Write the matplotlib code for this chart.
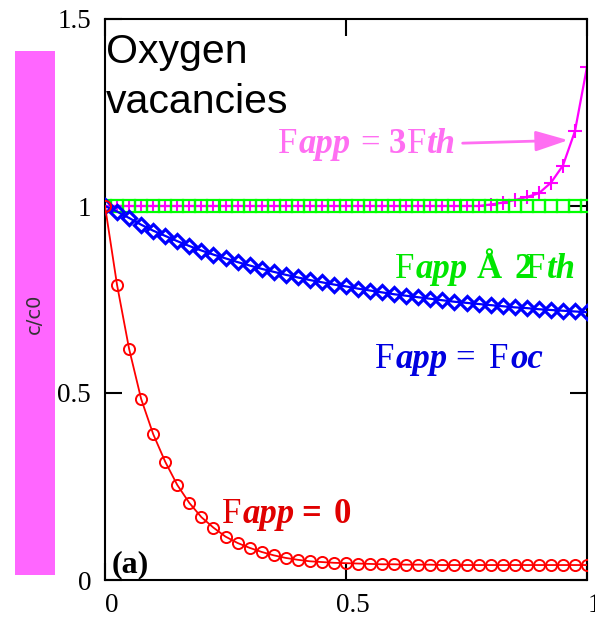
import matplotlib
matplotlib.use("Agg")
import matplotlib.pyplot as plt
import numpy as np
from matplotlib.patches import Rectangle
from matplotlib.transforms import ScaledTranslation

# normalised position along the sample
x_pos = np.linspace(0.0, 1.0, 41)

# normalised vacancy concentration for each applied field
conc_zero = [1.000, 0.789, 0.618, 0.484, 0.390, 0.316, 0.254, 0.206, 0.168, 0.140,
             0.116, 0.099, 0.086, 0.075, 0.066, 0.059, 0.054, 0.050, 0.048, 0.046,
             0.045, 0.044, 0.043, 0.042, 0.042, 0.041, 0.041, 0.041, 0.040, 0.040,
             0.040, 0.040, 0.040, 0.040, 0.040, 0.040, 0.040, 0.040, 0.040, 0.040,
             0.040]
conc_oc = [1.000, 0.985, 0.968, 0.950, 0.934, 0.920, 0.906, 0.893, 0.881, 0.870,
           0.860, 0.850, 0.841, 0.832, 0.824, 0.816, 0.809, 0.802, 0.796, 0.790,
           0.785, 0.779, 0.774, 0.769, 0.764, 0.760, 0.756, 0.752, 0.748, 0.744,
           0.741, 0.738, 0.735, 0.732, 0.729, 0.727, 0.724, 0.722, 0.720, 0.718,
           0.716]
conc_2th = [1.0, 1.0, 1.0, 1.0, 1.0, 1.0, 1.0, 1.0, 1.0, 1.0,
            1.0, 1.0, 1.0, 1.0, 1.0, 1.0, 1.0, 1.0, 1.0, 1.0,
            1.0, 1.0, 1.0, 1.0, 1.0, 1.0, 1.0, 1.0, 1.0, 1.0,
            1.0, 1.0, 1.0, 1.0, 1.0, 1.0, 1.0, 1.0, 1.0, 1.0,
            1.0]
conc_3th = [1.000, 1.000, 1.000, 1.000, 1.000, 1.000, 1.000, 1.000, 1.000, 1.000,
            1.000, 1.000, 1.000, 1.000, 1.000, 1.000, 1.000, 1.000, 1.000, 1.000,
            1.000, 1.000, 1.000, 1.000, 1.000, 1.000, 1.000, 1.000, 1.000, 1.000,
            1.000, 1.000, 1.004, 1.009, 1.016, 1.024, 1.034, 1.062, 1.108, 1.200,
            1.372]

x_ticks = [0, 0.5, 1]
x_tick_labels = ["0", "0.5", "1"]
y_ticks = [0, 0.5, 1, 1.5]
y_tick_labels = ["0", "0.5", "1", "1.5"]

W, H, DPI = 595, 617, 100
fig = plt.figure(figsize=(W / DPI, H / DPI), dpi=DPI)
ax = fig.add_axes([105 / W, (H - 580) / H, 482 / W, 561 / H])

SERIF = "Liberation Serif"

# magenta side bar with rotated label
fig.add_artist(Rectangle((15 / W, (H - 575) / H), 40 / W, 524 / H,
                         transform=fig.transFigure, facecolor="#ff66ff",
                         edgecolor="none", zorder=0))
fig.text(34 / W, (H - 314) / H, "c/c0", rotation=90, ha="center", va="center",
         fontsize=14, color="#333333", family="DejaVu Sans")

ax.plot(x_pos, conc_3th, color="#ff00ff", lw=1.6, marker="+", ms=10, mew=1.5, zorder=2)
ax.plot(x_pos, conc_2th, ls="none", marker="s", ms=8.0, mfc="none", mec="#00ff00",
        mew=1.6, zorder=3)
ax.plot(x_pos, conc_oc, color="#0000ff", lw=1.6, marker="D", ms=7.6, mfc="none",
        mew=2.3, zorder=4)
ax.plot(x_pos, conc_zero, color="#ff0000", lw=1.3, marker="o", ms=8.0, mfc="none",
        mew=1.4, zorder=5)

ax.set_xlim(0, 1)
ax.set_ylim(0, 1.5)
ax.set_xticks(x_ticks)
ax.set_xticklabels(x_tick_labels)
ax.set_yticks(y_ticks)
ax.set_yticklabels(y_tick_labels)
ax.tick_params(direction="in", length=12, width=1.5, top=True, right=True,
               labelsize=19.5)
ax.tick_params(axis="y", pad=10)
ax.tick_params(axis="x", pad=9)
for lab in ax.get_xticklabels() + ax.get_yticklabels():
    lab.set_family(SERIF)
for lab in ax.get_xticklabels():
    lab.set_transform(lab.get_transform() + ScaledTranslation(7 / DPI, 0, fig.dpi_scale_trans))
for sp in ax.spines.values():
    sp.set_linewidth(1.5)


def rich(x, y, parts, color, size=25):
    """Draw a run of differently styled pieces on one baseline."""
    kw = dict(fontsize=size, color=color, family=SERIF)
    s, w, st = parts[0]
    prev = ax.text(x, y, s, fontweight=w, fontstyle=st, va="baseline", ha="left",
                   zorder=6, **kw)
    for s, w, st, gap in parts[1:]:
        prev = ax.annotate(s, xy=(1, 0), xycoords=prev, xytext=(gap, 0),
                           textcoords="offset points", va="bottom", ha="left",
                           fontweight=w, fontstyle=st, zorder=6, **kw)


rich(0.243, 0.152, [("F", "normal", "normal"),
                    ("app", "bold", "italic", 0.8),
                    ("=", "bold", "normal", 5.0),
                    ("0", "bold", "normal", 9)], "#e00000")
rich(0.560, 0.567, [("F", "normal", "normal"),
                    ("app", "bold", "italic", 0.8),
                    ("=", "normal", "normal", 5.8),
                    ("F", "normal", "normal", 10),
                    ("oc", "bold", "italic", 1.5)], "#0000e0")
rich(0.359, 1.142, [("F", "normal", "normal"),
                    ("app", "bold", "italic", 0.8),
                    ("=", "normal", "normal", 7),
                    ("3", "bold", "normal", 6),
                    ("F", "normal", "normal", 1),
                    ("th", "bold", "italic", 0.5)], "#ff6ef2")
rich(0.602, 0.807, [("F", "normal", "normal"),
                    ("app", "bold", "italic", 0.5),
                    ("Å", "bold", "normal", 7),
                    ("2", "bold", "normal", 8.5),
                    ("F", "normal", "normal", -3.6),
                    ("th", "bold", "italic", 0.5)], "#00e600")

ax.annotate("", xy=(0.961, 1.176), xytext=(0.742, 1.168),
            arrowprops=dict(arrowstyle="-|>,head_length=0.8,head_width=0.25",
                            color="#ff6ef2", lw=2, mutation_scale=25,
                            shrinkA=0, shrinkB=0), zorder=6)

ax.text(0.002, 1.382, "Oxygen", family="Liberation Sans", fontsize=29.5,
        va="baseline", ha="left", color="black")
ax.text(0.002, 1.249, "vacancies", family="Liberation Sans", fontsize=29.5,
        va="baseline", ha="left", color="black")
ax.text(0.0145, 0.021, "(a)", family=SERIF, fontweight="bold", fontsize=23,
        va="baseline", ha="left", color="black")

fig.savefig("out.png", dpi=DPI)
